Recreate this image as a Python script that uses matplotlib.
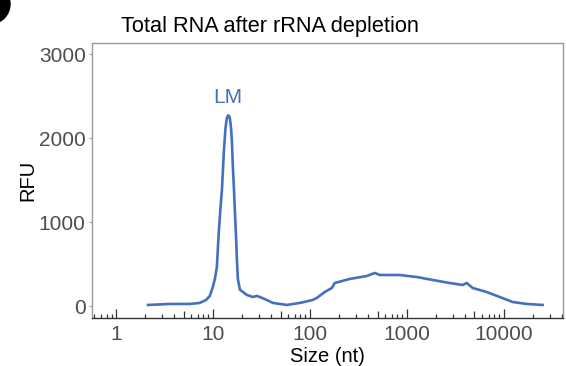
import matplotlib
matplotlib.use("Agg")
import matplotlib.pyplot as plt
from matplotlib.patches import Ellipse
from matplotlib.ticker import FixedLocator, NullFormatter

matplotlib.rcParams['font.family'] = ['Liberation Sans', 'DejaVu Sans']

# electropherogram trace: fragment size (nt) vs fluorescence (RFU)
size_nt = [2.14, 3.6, 5.8, 7.3, 8.5, 9.3, 10.0, 10.5, 11.0, 11.5, 12.0, 12.4,
           13.0, 13.5, 13.9, 14.3, 14.7, 15.0, 15.4, 15.7, 16.1, 16.5, 16.9,
           17.3, 17.7, 18.1, 19.0, 22.4, 25.8, 28.4, 30.5, 36, 41.6, 49, 58,
           79, 107, 118, 143, 169, 181, 258, 387, 468, 527, 847, 1268, 1854,
           2773, 3776, 4155, 4789, 6680, 9100, 12400, 17260, 25240]
rfu = [18, 30, 30, 42, 77, 125, 232, 330, 469, 880, 1180, 1384,
       1850, 2120, 2230, 2270, 2265, 2230, 2120, 1980, 1650, 1400, 1111,
       860, 560, 330, 200, 137, 113, 125, 113, 77, 42, 30, 18,
       42, 77, 101, 172, 220, 279, 327, 362, 398, 374, 374, 350, 315,
       279, 255, 279, 220, 172, 113, 53, 30, 18]

peak_label = "LM"
x_ticks = [1, 10, 100, 1000, 10000]
y_ticks = [0, 1000, 2000, 3000]

blue = "#4470BE"

fig = plt.figure(figsize=(5.66, 3.66), dpi=100)
ax = fig.add_axes([92 / 566, 48 / 366, 471 / 566, 275 / 366])

ax.plot(size_nt, rfu, color=blue, lw=1.9, solid_joinstyle='round')

ipk = rfu.index(max(rfu))
ax.annotate(peak_label, (size_nt[ipk], rfu[ipk]), xytext=(0, 6),
            textcoords='offset points', ha='center', va='bottom',
            color=blue, fontsize=15)

ax.set_xscale('log')
ax.set_xlim(0.566, 41000)
ax.set_ylim(-137, 3131)

# log ticks along the bottom, pointing into the panel
ax.set_xticks(x_ticks)
ax.set_xticklabels([str(t) for t in x_ticks])
minors = [m * 10 ** e for e in range(-1, 5) for m in (2, 3, 4, 6, 7, 8, 9)]
ax.xaxis.set_minor_locator(FixedLocator(minors))
ax.xaxis.set_minor_formatter(NullFormatter())
ax.tick_params(axis='x', which='major', direction='in', length=6.5,
               width=0.9, color='#333333', labelsize=15, labelcolor='#4D4D4D',
               pad=5)
ax.tick_params(axis='x', which='minor', direction='in', length=3,
               width=0.9, color='#333333')

fives = [5 * 10 ** e for e in range(-1, 5)]
sec = ax.secondary_xaxis('bottom')
sec.set_xticks(fives)
sec.set_xticklabels([])
sec.tick_params(axis='x', which='major', direction='in', length=5,
                width=0.9, color='#333333')
sec.xaxis.set_minor_locator(FixedLocator([]))
sec.spines['bottom'].set_visible(False)

ax.set_yticks(y_ticks)
ax.tick_params(axis='y', direction='out', length=2.5, width=0.8,
               color='#999999', labelsize=15, labelcolor='#4D4D4D', pad=2)

for side in ('top', 'right', 'left'):
    ax.spines[side].set_color('#999999')
    ax.spines[side].set_linewidth(1.0)
ax.spines['bottom'].set_color('#333333')
ax.spines['bottom'].set_linewidth(1.0)

ax.set_xlabel('Size (nt)', fontsize=14.5, labelpad=2)
ax.set_ylabel('RFU', fontsize=14.5, labelpad=1)

fig.text(121 / 566, 1 - 32 / 366, 'Total RNA after rRNA depletion',
         fontsize=15.7, ha='left', va='baseline')

# panel badge in the corner
fig.patches.append(Ellipse((-10 / 566, 362 / 366), 40 / 566, 40 / 366,
                           transform=fig.transFigure, color='black'))

fig.savefig('out.png', dpi=100)
